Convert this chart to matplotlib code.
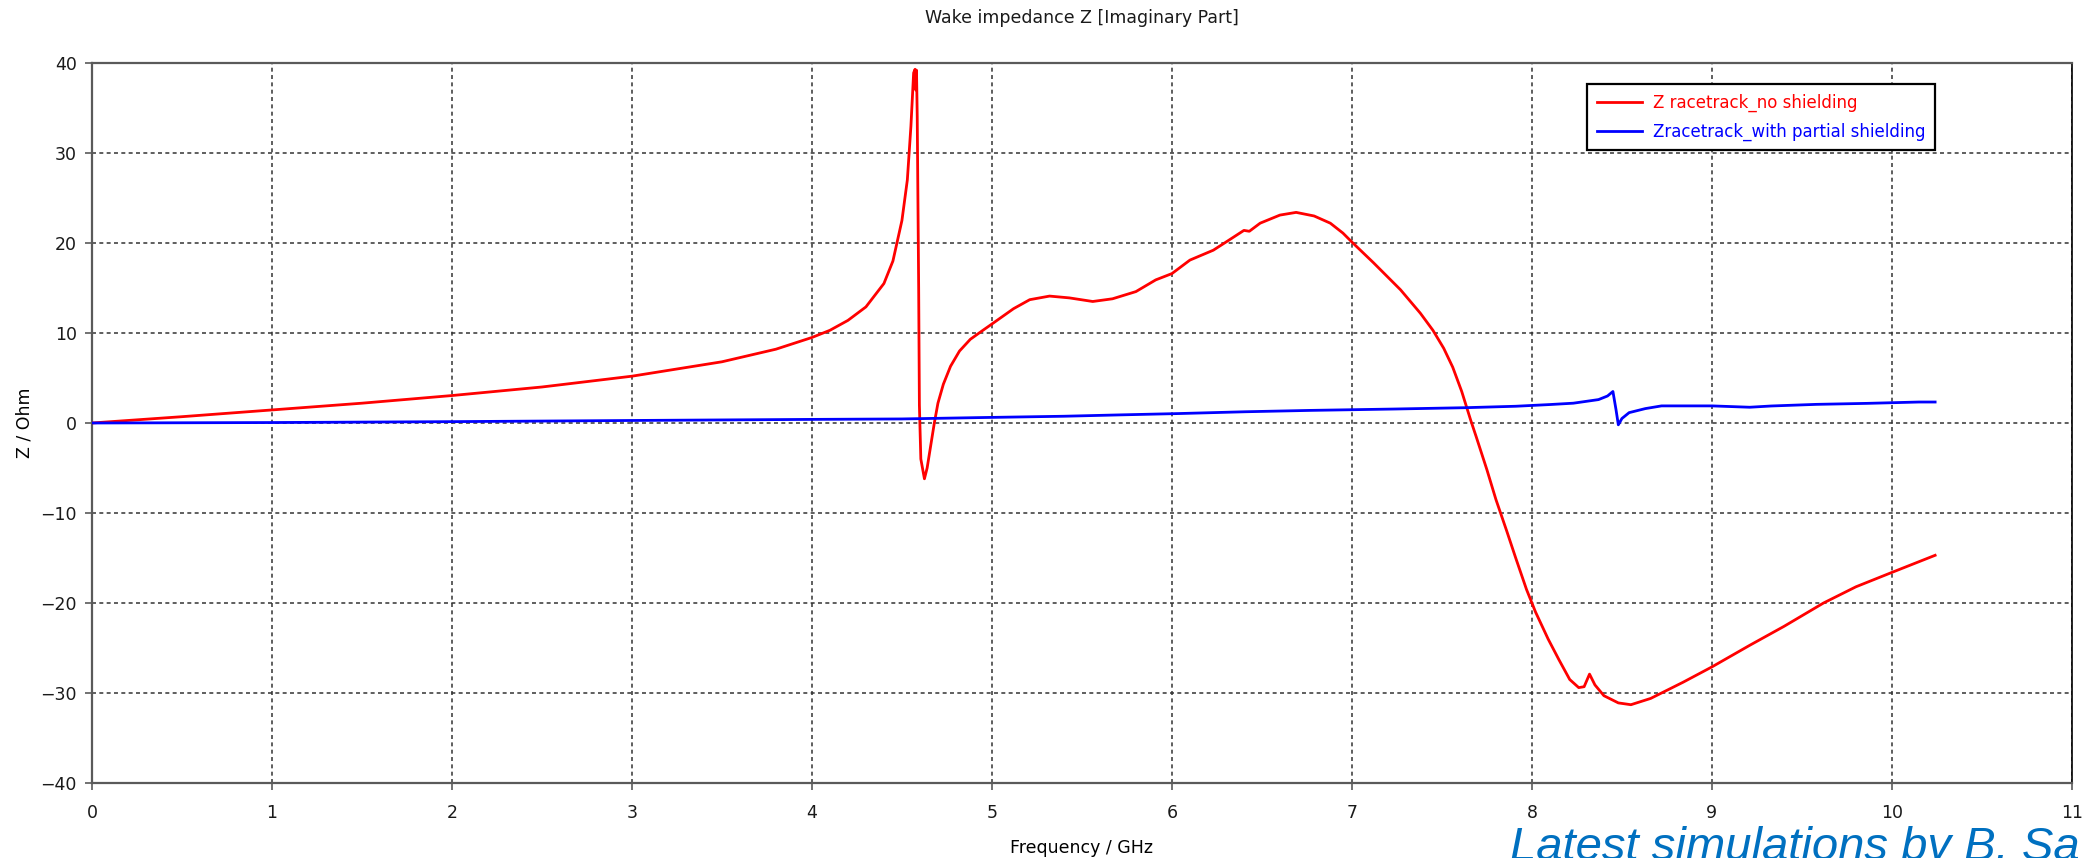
import matplotlib
matplotlib.use("Agg")
import matplotlib.pyplot as plt

# Frequency (GHz) / imaginary impedance (Ohm)
freq_noshield = [
    0.0, 0.5, 1.0, 1.5, 2.0, 2.5, 3.0, 3.5, 3.8, 4.0, 4.1, 4.2, 4.3, 4.4,
    4.45, 4.5, 4.53, 4.55, 4.565, 4.573, 4.577, 4.581, 4.585, 4.593, 4.597,
    4.605, 4.625, 4.64, 4.66, 4.68, 4.70, 4.73, 4.77, 4.82, 4.88, 4.95, 5.0,
    5.12, 5.21, 5.32, 5.43, 5.56, 5.67, 5.80, 5.91, 6.0, 6.1, 6.23, 6.30,
    6.40, 6.43, 6.49, 6.60, 6.69, 6.79, 6.88, 6.95, 7.0, 7.12, 7.27, 7.38,
    7.45, 7.51, 7.56, 7.61, 7.66, 7.69, 7.75, 7.80, 7.86, 7.91, 7.97, 8.02,
    8.09, 8.15, 8.21, 8.26, 8.29, 8.32, 8.35, 8.40, 8.48, 8.55, 8.66, 8.84,
    9.0, 9.21, 9.40, 9.62, 9.80, 10.0, 10.24,
]
z_noshield = [
    0.0, 0.7, 1.45, 2.2, 3.05, 4.0, 5.2, 6.8, 8.2, 9.5, 10.3, 11.4, 12.9, 15.5,
    18.0, 22.5, 27.0, 33.0, 38.9, 39.3, 37.0, 39.2, 34.0, 15.0, 2.0,
    -4.0, -6.2, -5.0, -2.5, 0.0, 2.2, 4.3, 6.3, 8.0, 9.3, 10.3, 11.0,
    12.7, 13.7, 14.1, 13.9, 13.5, 13.8, 14.6, 15.9, 16.6, 18.1, 19.2, 20.1,
    21.4, 21.3, 22.2, 23.1, 23.4, 23.0, 22.2, 21.1, 20.1, 17.8, 14.8, 12.2,
    10.3, 8.3, 6.2, 3.5, 0.3, -1.5, -5.2, -8.5, -12.0, -15.0, -18.5, -21.0,
    -24.0, -26.3, -28.5, -29.4, -29.3, -27.9, -29.1, -30.3, -31.1, -31.3, -30.6, -28.8,
    -27.1, -24.7, -22.6, -20.0, -18.2, -16.6, -14.7,
]

freq_partial = [
    0.0, 1.0, 2.0, 3.0, 4.0, 4.5, 4.93, 5.4, 5.71, 6.04, 6.41, 6.77, 7.23,
    7.63, 7.91, 8.1, 8.23, 8.37, 8.42, 8.45, 8.467, 8.48, 8.5, 8.54, 8.63,
    8.72, 9.0, 9.21, 9.33, 9.58, 9.86, 10.15, 10.24,
]
z_partial = [
    0.0, 0.05, 0.15, 0.28, 0.4, 0.45, 0.6, 0.75, 0.9, 1.05, 1.25, 1.4, 1.55,
    1.7, 1.86, 2.05, 2.2, 2.6, 3.0, 3.5, 1.5, -0.2, 0.5, 1.15, 1.6,
    1.9, 1.9, 1.75, 1.89, 2.07, 2.18, 2.33, 2.33,
]

x_ticks = list(range(0, 12))
y_ticks = list(range(-40, 41, 10))

RED = "#ff0000"
BLUE = "#0000ff"
AXIS_GREY = "#5a5a5a"
NOTE_BLUE = "#0070c0"

plt.rcParams.update({
    "font.family": ["DejaVu Sans"],
    "text.color": "#1a1a1a",
})

fig = plt.figure(figsize=(20.99, 8.58), dpi=100)
ax = fig.add_axes([0.0438, 0.0874, 0.9433, 0.8392])

ax.plot(freq_noshield, z_noshield, color=RED, linewidth=2.0,
        label="Z racetrack_no shielding", zorder=3)
ax.plot(freq_partial, z_partial, color=BLUE, linewidth=2.0,
        label="Zracetrack_with partial shielding", zorder=3)

ax.set_xlim(0, 11)
ax.set_ylim(-40, 40)
ax.set_xticks(x_ticks)
ax.set_yticks(y_ticks)
ax.tick_params(axis="both", labelsize=12.5, colors="#1a1a1a")
ax.tick_params(axis="x", direction="out", length=5, width=1.2, pad=10, color=AXIS_GREY)
ax.tick_params(axis="y", direction="out", length=5, width=1.2, pad=6, color=AXIS_GREY)

ax.grid(True, color="#333333", linewidth=1.1, linestyle=(0, (2.6, 2.2)))
ax.set_axisbelow(True)

for side in ("left", "bottom", "top"):
    ax.spines[side].set_color(AXIS_GREY)
    ax.spines[side].set_linewidth(1.6)
ax.spines["right"].set_color("#000000")
ax.spines["right"].set_linewidth(1.2)

ax.set_title("Wake impedance Z [Imaginary Part]", fontsize=12.5, pad=29)
ax.set_xlabel("Frequency / GHz", fontsize=12.5, labelpad=12)
ax.set_ylabel("Z / Ohm", fontsize=12.5, labelpad=5)

leg = ax.legend(loc="upper right", bbox_to_anchor=(0.935, 0.982), fontsize=12,
                frameon=True, fancybox=False, framealpha=1, edgecolor="#000000",
                handlelength=2.7, handletextpad=0.7, labelspacing=0.65,
                borderpad=0.55)
leg.get_frame().set_linewidth(1.6)
for txt, line in zip(leg.get_texts(), leg.get_lines()):
    txt.set_color(line.get_color())

# the note runs off the slide edge in the original, as here
fig.text(0.7195, -0.002, "Latest simulations by B. Sa", fontsize=34,
         fontstyle="italic", color=NOTE_BLUE, family=["Liberation Sans", "DejaVu Sans"],
         ha="left", va="baseline")

fig.savefig("out.png", dpi=100)
